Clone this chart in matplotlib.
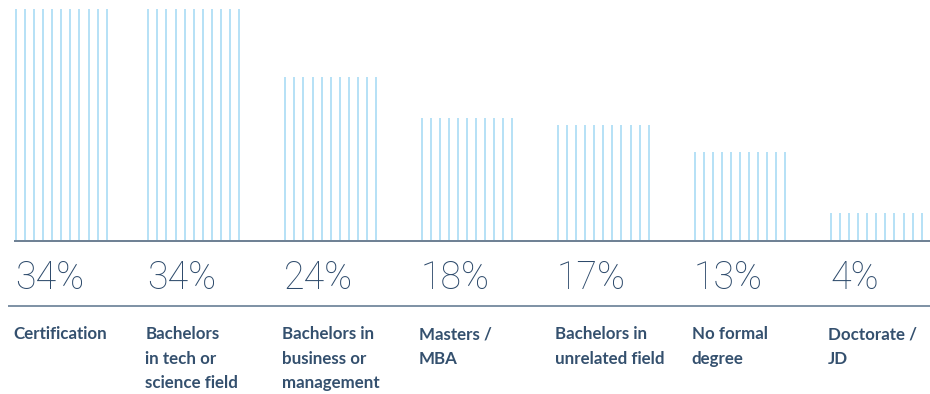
import matplotlib.pyplot as plt

categories = ["Certification", "Bachelors\nin tech or\nscience field", "Bachelors in\nbusiness or\nmanagement",
              "Masters /\nMBA", "Bachelors in\nunrelated field", "No formal\ndegree", "Doctorate /\nJD"]
values = [34, 34, 24, 18, 17, 13, 4]
pct_labels = ["34%", "34%", "24%", "18%", "17%", "13%", "4%"]

W, H = 930, 394
PX = 231 / 34.0          # pixels per percentage point
BASE = 240               # baseline, pixels from the top
# left edge of each bar group, in pixels
starts = [16, 148.3, 285.3, 421.5, 558, 694.7, 831]

def py(p):
    return (BASE - p) / PX

fig = plt.figure(figsize=(W / 100, H / 100), dpi=100)
ax = fig.add_axes([0, 0, 1, 1])
ax.set_xlim(0, W)
ax.set_ylim(py(H), py(0))
ax.axis("off")

n_lines = 11
gap = 9.07
for i, v in enumerate(values):
    x0 = starts[i]
    xs = [x0 + k * gap for k in range(n_lines)]
    ax.vlines(xs, 0, v, color="#a9dcf5", linewidth=1.2)
    ax.text(x0 - 1, py(289), pct_labels[i], fontsize=27, family="Roboto",
            weight="light", color="#2d4a6b", ha="left", va="baseline")
    ax.text(x0 - 3, py(326), categories[i], fontsize=12.2, family="Lato",
            weight="bold", color="#34506e", ha="left", va="top", linespacing=1.66)

ax.plot([14, W], [py(240.5)] * 2, color="#6c7f93", linewidth=1.4, solid_capstyle="butt")
ax.plot([8, W], [py(306)] * 2, color="#7d90a4", linewidth=1.4, solid_capstyle="butt")

fig.savefig("out.png", dpi=100)
